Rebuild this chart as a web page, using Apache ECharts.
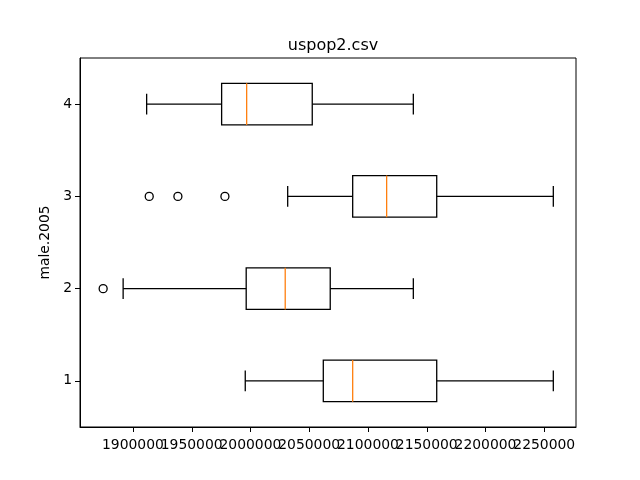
<!DOCTYPE html>
<html>
<head>
<meta charset="utf-8">
<script src="https://cdn.jsdelivr.net/npm/echarts@6/dist/echarts.min.js"></script>
<style>html,body{margin:0;padding:0;background:#fff;}#c{width:640px;height:480px;}</style>
</head>
<body>
<div id="c"></div>
<script>
const categories = ['1', '2', '3', '4'];
const whiskerLow  = [1995600, 1891700, 2031700, 1911700];
const q1          = [2062000, 1996400, 2087000, 1975500];
const median      = [2087000, 2029600, 2115900, 1996800];
const q3          = [2158500, 2067900, 2158500, 2052600];
const whiskerHigh = [2257700, 2138600, 2257700, 2138600];
const outlierCats   = ['2', '3', '3', '3'];
const outlierValues = [1874700, 1913900, 1938300, 1978300];
const xTicks = [1900000, 1950000, 2000000, 2050000, 2100000, 2150000, 2200000, 2250000];

const FONT = 'DejaVu Sans';
const boxData = categories.map((c, i) => [i, whiskerLow[i], q1[i], median[i], q3[i], whiskerHigh[i]]);
const outlierData = outlierValues.map((v, i) => [v, outlierCats[i]]);
const tickData = xTicks.map(v => [v, 0]);

function renderBox(params, api) {
  const ci = api.value(0);
  const band = api.size([0, 1])[1];
  const hb = band * 0.45 / 2;
  const hc = band * 0.225 / 2;
  const y = api.coord([api.value(1), ci])[1];
  const xl = api.coord([api.value(1), ci])[0];
  const x1 = api.coord([api.value(2), ci])[0];
  const xm = api.coord([api.value(3), ci])[0];
  const x3 = api.coord([api.value(4), ci])[0];
  const xh = api.coord([api.value(5), ci])[0];
  const lw = 1.3;
  const black = {stroke: '#000', lineWidth: lw, fill: null};
  return {
    type: 'group',
    children: [
      {type: 'line', shape: {x1: xl, y1: y, x2: x1, y2: y}, style: black},
      {type: 'line', shape: {x1: x3, y1: y, x2: xh, y2: y}, style: black},
      {type: 'line', shape: {x1: xl, y1: y - hc, x2: xl, y2: y + hc}, style: black},
      {type: 'line', shape: {x1: xh, y1: y - hc, x2: xh, y2: y + hc}, style: black},
      {type: 'rect', shape: {x: x1, y: y - hb, width: x3 - x1, height: 2 * hb}, style: {stroke: '#000', lineWidth: lw, fill: 'none'}},
      {type: 'line', shape: {x1: xm, y1: y - hb, x2: xm, y2: y + hb}, style: {stroke: '#ff7f0e', lineWidth: lw}}
    ]
  };
}

function renderTick(params, api) {
  const v = api.value(0);
  const xr = api.coord([v, 0])[0];
  const x = Math.round(xr) + 0.5;
  const cs = params.coordSys;
  const y0 = cs.y + cs.height;
  return {
    type: 'group',
    children: [
      {type: 'line', shape: {x1: x, y1: y0, x2: x, y2: y0 + 5}, style: {stroke: '#000', lineWidth: 1}},
      {type: 'text', x: xr, y: y0 + 11,
        style: {text: String(v), fontFamily: FONT, fontSize: 13.9, fill: '#000', align: 'center', verticalAlign: 'top'}}
    ]
  };
}

const chart = echarts.init(document.getElementById('c'), null, {renderer: 'canvas'});
chart.setOption({
  animation: false,
  backgroundColor: '#fff',
  textStyle: {fontFamily: FONT, color: '#000'},
  title: {
    text: 'uspop2.csv',
    left: 328, top: 33, textAlign: 'center',
    textStyle: {fontFamily: FONT, fontSize: 16, fontWeight: 'normal', color: '#000'}
  },
  grid: {left: 80, right: 64, top: 58, bottom: 53, show: true, borderColor: '#000', borderWidth: 1, backgroundColor: 'transparent'},
  xAxis: {
    type: 'value',
    min: 1855000, max: 2277000,
    axisLine: {show: true, lineStyle: {color: '#000', width: 1}},
    axisTick: {show: false},
    axisLabel: {show: false},
    splitLine: {show: false}
  },
  yAxis: {
    type: 'category',
    data: categories,
    boundaryGap: true,
    name: 'male.2005', nameLocation: 'middle', nameGap: 15, nameRotate: 90,
    nameTextStyle: {fontFamily: FONT, fontSize: 13.9, color: '#000'},
    axisLine: {show: true, lineStyle: {color: '#000', width: 1}},
    axisTick: {show: true, alignWithLabel: true, length: 5, lineStyle: {color: '#000'}},
    axisLabel: {fontFamily: FONT, fontSize: 13.9, color: '#000', margin: 8},
    splitLine: {show: false}
  },
  series: [
    {
      type: 'custom',
      renderItem: renderBox,
      data: boxData,
      encode: {y: 0, x: [1, 2, 3, 4, 5]},
      z: 3
    },
    {
      type: 'scatter',
      data: outlierData,
      symbol: 'circle',
      symbolSize: 8,
      itemStyle: {color: 'rgba(0,0,0,0)', borderColor: '#000', borderWidth: 1.3, opacity: 1},
      z: 4
    },
    {
      type: 'custom',
      renderItem: renderTick,
      data: tickData,
      encode: {x: 0},
      clip: false,
      silent: true,
      z: 5
    }
  ]
});
</script>
</body>
</html>
